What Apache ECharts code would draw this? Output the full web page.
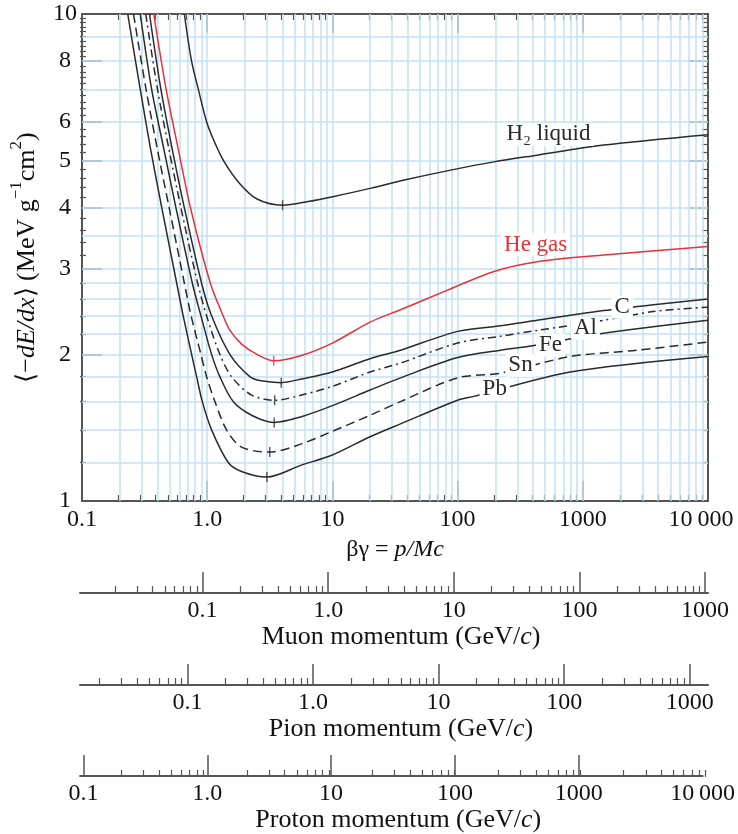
<!DOCTYPE html>
<html>
<head>
<meta charset="utf-8">
<script src="https://cdn.jsdelivr.net/npm/echarts@6/dist/echarts.min.js"></script>
<style>
  html, body { margin: 0; padding: 0; background: #fff; }
  #chart { width: 738px; height: 834px; }
</style>
</head>
<body>
<div id="chart"></div>
<script>
// [βγ, <-dE/dx> in MeV g^-1 cm^2]
const h2Liquid = [[0.657,10],[0.75,8],[0.85,7],[0.99,6],[1.13,5.5],[1.35,5],[1.8,4.5],[2.5,4.17],[4,4.05],[6.4,4.12],[10.3,4.22],[20.4,4.39],[37.5,4.56],[88,4.78],[195,4.97],[432,5.13],[1468,5.38],[10000,5.65]];
const heGas = [[0.374,10],[0.47,7],[0.589,5.26],[0.735,4],[1.06,2.8],[1.34,2.4],[1.52,2.24],[1.88,2.1],[2.5,2.0],[3.4,1.94],[5.65,1.99],[10,2.11],[20,2.33],[35,2.47],[83,2.71],[195,2.96],[432,3.1],[1468,3.2],[10000,3.33]];
const carbon = [[0.346,10],[0.427,7],[0.527,5.26],[0.657,4],[0.902,2.8],[1.084,2.4],[1.517,2.0],[2.19,1.8],[2.7,1.765],[3.9,1.75],[5.65,1.78],[10,1.84],[20,1.96],[35,2.04],[100,2.23],[221,2.29],[432,2.35],[1468,2.46],[3670,2.53],[10000,2.6]];
const aluminium = [[0.323,10],[0.401,7],[0.496,5.26],[0.617,4],[0.839,2.8],[0.989,2.4],[1.262,2.0],[1.564,1.8],[2.26,1.65],[3.46,1.61],[5.65,1.65],[10,1.72],[20,1.84],[35,1.92],[100,2.11],[221,2.18],[432,2.24],[1468,2.35],[3670,2.45],[10000,2.5]];
const iron = [[0.292,10],[0.36,7],[0.452,5.26],[0.563,4],[0.761,2.8],[0.891,2.4],[1.084,2.0],[1.262,1.8],[1.614,1.6],[2.26,1.5],[3.43,1.45],[5.65,1.49],[10,1.57],[20,1.69],[35,1.79],[100,1.97],[221,2.04],[383,2.08],[1468,2.21],[10000,2.35]];
const tin = [[0.258,10],[0.325,7],[0.401,5.26],[0.497,4],[0.657,2.8],[0.744,2.4],[0.891,2.0],[0.989,1.8],[1.152,1.6],[1.427,1.4],[1.88,1.29],[3.16,1.26],[5.65,1.31],[10,1.39],[20,1.5],[35,1.6],[100,1.79],[221,1.83],[796,1.98],[2700,2.04],[10000,2.12]];
const lead = [[0.232,10],[0.292,7],[0.354,5.26],[0.434,4],[0.571,2.8],[0.643,2.4],[0.751,2.0],[0.823,1.8],[0.914,1.6],[1.084,1.4],[1.472,1.2],[1.88,1.15],[3.0,1.12],[5.65,1.185],[10,1.243],[20,1.355],[35,1.44],[100,1.61],[135,1.64],[796,1.84],[10000,1.98]];

// minimum-ionization marks, one per curve (same order as above)
const minimumMarks = [[4.0,4.05],[3.4,1.94],[3.9,1.75],[3.46,1.61],[3.43,1.45],[3.16,1.26],[3.0,1.12]];

// axis ticks and labels
const xMajorTicks = [0.1, 1, 10, 100, 1000, 10000];
const xLabels = ['0.1', '1.0', '10', '100', '1000', '10\u2009000'];
const yMajorTicks = [1, 2, 3, 4, 5, 6, 8, 10];
const yGridLines = [1.2, 1.4, 1.6, 1.8, 2, 2.2, 2.4, 2.6, 2.8, 3, 3.5, 4, 5, 6, 7, 8, 9];
const mantissas = [2, 3, 4, 5, 6, 7, 8, 9];

const momentumTicks = [0.1, 1, 10, 100, 1000];
const momentumLabels = ['0.1', '1.0', '10', '100', '1000'];
const protonLabelValues = [0.1, 1, 10, 100, 1000, 10000];
const protonLabels = ['0.1', '1.0', '10', '100', '1000', '10\u2009000'];
const particleMass = { muon: 0.10566, pion: 0.13957, proton: 0.93827 }; // GeV/c^2

const FONT = '"Liberation Serif", "Times New Roman", serif';
const INK = '#111';
const AXIS = '#555';
const BLACK = '#2a2a2a';
const RED = '#ea3038';
const GRID = '#c2e2f5';

const minorOf = decades => decades.flatMap(d => mantissas.map(m => +(m * d).toPrecision(6)));
const xMinorTicks = minorOf([0.1, 1, 10, 100, 1000]);
const xGridLines = xMinorTicks.concat([1, 10, 100, 1000]);
const yMinorTicks = [];
for (let k = 6; k < 50; k++) {
    const v = k / 5;
    if (!yMajorTicks.includes(v)) yMinorTicks.push(v);
}

const labelFor = (ticks, labels) => value => {
    const i = ticks.findIndex(t => Math.abs(Math.log10(t / value)) < 1e-6);
    return i < 0 ? '' : labels[i];
};

const PLOT = { left: 80, right: 30, top: 14, bottom: 333 };
const PX_PER_DECADE = (738 - PLOT.left - PLOT.right) / 5;

const chart = echarts.init(document.getElementById('chart'), null, { renderer: 'canvas' });

// --- axes -------------------------------------------------------------
const grids = [
    { ...PLOT },            // 0 main
    { ...PLOT },            // 1 main, minor ticks
];
const xAxes = [];
const yAxes = [];

const lineAxis = (show) => ({ show, lineStyle: { color: AXIS, width: 2 } });

// main x (bottom / top)
xAxes.push({
    type: 'log', gridIndex: 0, position: 'bottom', min: 0.1, max: 10000,
    axisLine: lineAxis(true),
    axisTick: { inside: true, length: 20, customValues: xMajorTicks, lineStyle: { color: AXIS, width: 1.5 } },
    axisLabel: {
        customValues: xMajorTicks, margin: 7, color: INK, fontFamily: FONT, fontSize: 24,
        formatter: v => {
            const s = labelFor(xMajorTicks, xLabels)(v);
            return v > 5000 ? '{last|' + s + '}' : s;
        },
        rich: { last: { fontFamily: FONT, fontSize: 24, color: INK, padding: [0, 14, 0, 0] } },
    },
    splitLine: { show: false },
    name: '{n|βγ = }{i|p/Mc}', nameLocation: 'middle', nameGap: 37,
    nameTextStyle: {
        rich: {
            n: { fontFamily: FONT, fontSize: 24, color: INK },
            i: { fontFamily: FONT, fontSize: 24, color: INK, fontStyle: 'italic' },
        },
    },
});
xAxes.push({
    type: 'log', gridIndex: 0, position: 'top', min: 0.1, max: 10000,
    axisLine: lineAxis(true),
    axisTick: { inside: true, length: 19, customValues: xMajorTicks, lineStyle: { color: AXIS, width: 1.5 } },
    axisLabel: { show: false }, splitLine: { show: false },
});
['bottom', 'top'].forEach(position => xAxes.push({
    type: 'log', gridIndex: 1, position, min: 0.1, max: 10000,
    axisLine: { show: false },
    axisTick: { inside: true, length: 6, customValues: xMinorTicks, lineStyle: { color: AXIS, width: 1.2 } },
    axisLabel: { show: false }, splitLine: { show: false },
}));

// main y (left / right)
yAxes.push({
    type: 'log', gridIndex: 0, position: 'left', min: 1, max: 10,
    axisLine: lineAxis(true),
    axisTick: { inside: true, length: 20, customValues: yMajorTicks, lineStyle: { color: AXIS, width: 1.5 } },
    axisLabel: {
        customValues: yMajorTicks, align: 'center', margin: 17, color: INK, fontFamily: FONT, fontSize: 24,
        formatter: v => String(Math.round(v)),
    },
    splitLine: { show: false },
    name: '{n|⟨−}{i|dE/dx}{n|⟩ (MeV g}{s|−1}{n|cm}{s|2}{n|)}',
    nameLocation: 'middle', nameRotate: 90, nameGap: 42,
    nameTextStyle: {
        rich: {
            n: { fontFamily: FONT, fontSize: 26, color: INK, lineHeight: 32, verticalAlign: 'bottom' },
            i: { fontFamily: FONT, fontSize: 26, color: INK, lineHeight: 32, verticalAlign: 'bottom', fontStyle: 'italic' },
            s: { fontFamily: FONT, fontSize: 17, color: INK, lineHeight: 17, verticalAlign: 'top' },
        },
    },
});
yAxes.push({
    type: 'log', gridIndex: 0, position: 'right', min: 1, max: 10,
    axisLine: lineAxis(true),
    axisTick: { inside: true, length: 19, customValues: yMajorTicks, lineStyle: { color: AXIS, width: 1.5 } },
    axisLabel: { show: false }, splitLine: { show: false },
});
['left', 'right'].forEach(position => yAxes.push({
    type: 'log', gridIndex: 1, position, min: 1, max: 10,
    axisLine: { show: false },
    axisTick: { inside: true, length: 6, customValues: yMinorTicks, lineStyle: { color: AXIS, width: 1.2 } },
    axisLabel: { show: false }, splitLine: { show: false },
}));

// momentum scales under the plot
function momentumScale(lineY, mass, maxValue, labelValues, labels, minorDecades, title) {
    const min = 0.1 * mass;
    const right = 738 - (PLOT.left + PX_PER_DECADE * Math.log10(maxValue / min));
    const g = grids.length;
    grids.push({ left: PLOT.left, right, top: lineY - 10, height: 10 });
    grids.push({ left: PLOT.left, right, top: lineY - 10, height: 10 });
    xAxes.push({
        type: 'log', gridIndex: g, position: 'bottom', min, max: maxValue,
        axisLine: lineAxis(true),
        axisTick: { inside: true, length: 21, customValues: momentumTicks, lineStyle: { color: AXIS, width: 1.5 } },
        axisLabel: {
            customValues: labelValues, margin: 6, color: INK, fontFamily: FONT, fontSize: 24,
            formatter: labelFor(labelValues, labels),
        },
        splitLine: { show: false },
        name: title, nameLocation: 'middle', nameGap: 28,
        nameTextStyle: {
            padding: [0, 0, 0, 14],
            rich: {
                n: { fontFamily: FONT, fontSize: 26, color: INK },
                i: { fontFamily: FONT, fontSize: 26, color: INK, fontStyle: 'italic' },
            },
        },
    });
    xAxes.push({
        type: 'log', gridIndex: g + 1, position: 'bottom', min, max: maxValue,
        axisLine: { show: false },
        axisTick: { inside: true, length: 7, customValues: minorOf(minorDecades), lineStyle: { color: AXIS, width: 1.2 } },
        axisLabel: { show: false }, splitLine: { show: false },
    });
    yAxes.push({ type: 'value', gridIndex: g, show: false });
    yAxes.push({ type: 'value', gridIndex: g + 1, show: false });
}
momentumScale(593, particleMass.muon, 10000 * particleMass.muon, momentumTicks, momentumLabels,
    [0.01, 0.1, 1, 10, 100], '{n|Muon momentum (GeV/}{i|c}{n|)}');
momentumScale(685, particleMass.pion, 10000 * particleMass.pion, momentumTicks, momentumLabels,
    [0.01, 0.1, 1, 10, 100], '{n|Pion momentum (GeV/}{i|c}{n|)}');
momentumScale(777, particleMass.proton, 10000, protonLabelValues, protonLabels,
    [0.1, 1, 10, 100, 1000], '{n|Proton momentum (GeV/}{i|c}{n|)}');

// --- series -----------------------------------------------------------
function curve(name, data, color, dash, label, at) {
    return {
        type: 'line', name, data, xAxisIndex: 0, yAxisIndex: 0,
        symbol: 'none', smooth: 0.3, z: 3, silent: true,
        lineStyle: { color, width: 1.5, type: dash },
        markPoint: {
            silent: true, symbol: 'rect', symbolSize: 1, animation: false,
            itemStyle: { color: 'rgba(0,0,0,0)' },
            label: {
                show: true, position: 'inside', formatter: label, color,
                fontFamily: FONT, fontSize: 23, backgroundColor: '#fff', padding: [0, 3],
            },
            data: [{ coord: at }],
        },
    };
}

const series = [
    curve('H2 liquid', h2Liquid, BLACK, 'solid', 'H\u2082 liquid', [532, 5.66]),
    curve('He gas', heGas, RED, 'solid', 'He gas', [420, 3.36]),
    curve('C', carbon, BLACK, 'solid', 'C', [2066, 2.5]),
    curve('Al', aluminium, BLACK, [8, 4, 2, 4], 'Al', [1049, 2.265]),
    curve('Fe', iron, BLACK, 'solid', 'Fe', [552, 2.09]),
    curve('Sn', tin, BLACK, [9, 5], 'Sn', [318, 1.9]),
    curve('Pb', lead, BLACK, 'solid', 'Pb', [198, 1.7]),
];

// light-blue grid, drawn under the curves
series[0].markLine = {
    silent: true, z: 1, symbol: ['none', 'none'], animation: false,
    label: { show: false },
    lineStyle: { color: GRID, width: 1.5, type: 'solid' },
    emphasis: { disabled: true },
    data: xGridLines.map(v => ({ xAxis: v })).concat(yGridLines.map(v => ({ yAxis: v }))),
};

series.push({
    type: 'scatter', xAxisIndex: 0, yAxisIndex: 0, z: 4, silent: true,
    symbol: 'rect', symbolSize: [1.4, 10],
    data: minimumMarks.map((d, i) => ({ value: d, itemStyle: { color: i === 1 ? RED : BLACK } })),
});

chart.setOption({
    animation: false,
    backgroundColor: '#fff',
    textStyle: { fontFamily: FONT },
    grid: grids,
    xAxis: xAxes,
    yAxis: yAxes,
    series,
});
</script>
</body>
</html>
